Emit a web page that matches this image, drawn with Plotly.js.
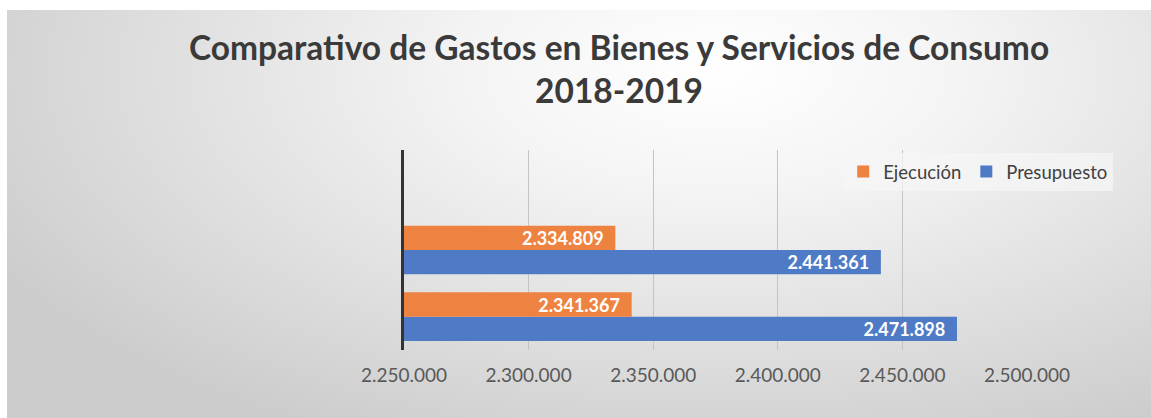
<!DOCTYPE html>
<html>
<head>
<meta charset="utf-8">
<script src="https://cdn.plot.ly/plotly-3.0.1.min.js"></script>
<style>
html,body{margin:0;padding:0;background:#ffffff;width:1151px;height:418px;overflow:hidden;}
#frame{position:absolute;left:7px;top:10px;width:1144px;height:408px;
background:radial-gradient(ellipse 72% 100% at 62% 15%, #ffffff 0%, #f4f4f4 30%, #e3e3e3 60%, #cccccc 100%);}
#chart{position:absolute;left:0;top:0;width:1144px;height:408px;}
</style>
</head>
<body>
<div id="frame"><div id="chart"></div></div>
<script>
// Data
const categories = ['2019', '2018', 'vacío'];
const barCategories = ['2019', '2018'];
const ejecucion = [2341367, 2334809];
const presupuesto = [2471898, 2441361];
const xTicks = [2250000, 2300000, 2350000, 2400000, 2450000, 2500000];
const titleText = 'Comparativo de Gastos en Bienes y Servicios de Consumo<br>2018-2019';

const labelFont = {family: 'Lato, "Open Sans", sans-serif', size: 18, color: '#ffffff', weight: 'bold'};

const traces = [
  {
    type: 'bar', orientation: 'h', name: 'Presupuesto',
    y: barCategories, x: presupuesto,
    marker: {color: '#4F7BC6'},
    texttemplate: '%{x:,d}\u00a0\u00a0', textposition: 'inside', insidetextanchor: 'end',
    constraintext: 'none', cliponaxis: false,
    textfont: labelFont, hoverinfo: 'x+name'
  },
  {
    type: 'bar', orientation: 'h', name: 'Ejecución',
    y: barCategories, x: ejecucion,
    marker: {color: '#EE8240'},
    texttemplate: '%{x:,d}\u00a0\u00a0', textposition: 'inside', insidetextanchor: 'end',
    constraintext: 'none', cliponaxis: false,
    textfont: labelFont, hoverinfo: 'x+name'
  }
];

const layout = {
  width: 1144, height: 408,
  paper_bgcolor: 'rgba(0,0,0,0)',
  plot_bgcolor: 'rgba(0,0,0,0)',
  separators: ',.',
  barmode: 'group',
  bargap: 0.27,
  bargroupgap: 0,
  margin: {l: 397, r: 124, t: 140, b: 68},
  title: {
    text: titleText,
    font: {family: 'Lato, "Open Sans", sans-serif', size: 33.5, color: '#3a3a3a', weight: 'bold'},
    x: 0.535, xref: 'container', xanchor: 'center',
    y: 0.878, yref: 'container', yanchor: 'top'
  },
  xaxis: {
    range: [2250000, 2500000],
    tickvals: xTicks,
    tickformat: ',d',
    showgrid: true, gridcolor: '#c4c4c4', gridwidth: 1,
    zeroline: false, showline: false,
    ticks: '',
    ticklabelstandoff: 12,
    tickfont: {family: 'Lato, "Open Sans", sans-serif', size: 19, color: '#595959'},
    fixedrange: true
  },
  yaxis: {
    type: 'category',
    categoryorder: 'array', categoryarray: categories,
    range: [-0.5, 2.5],
    showticklabels: false, ticks: '',
    showgrid: false, zeroline: false,
    showline: true, linecolor: '#333333', linewidth: 3,
    fixedrange: true
  },
  showlegend: true,
  legend: {
    orientation: 'h', traceorder: 'reversed',
    x: 0.705, xanchor: 'left', y: 0.985, yanchor: 'top',
    bgcolor: 'rgba(245,245,245,0.75)',
    font: {family: 'Lato, "Open Sans", sans-serif', size: 18.5, color: '#404040'},
    itemwidth: 30
  }
};

Plotly.newPlot('chart', traces, layout, {displayModeBar: false, staticPlot: true});
</script>
</body>
</html>
